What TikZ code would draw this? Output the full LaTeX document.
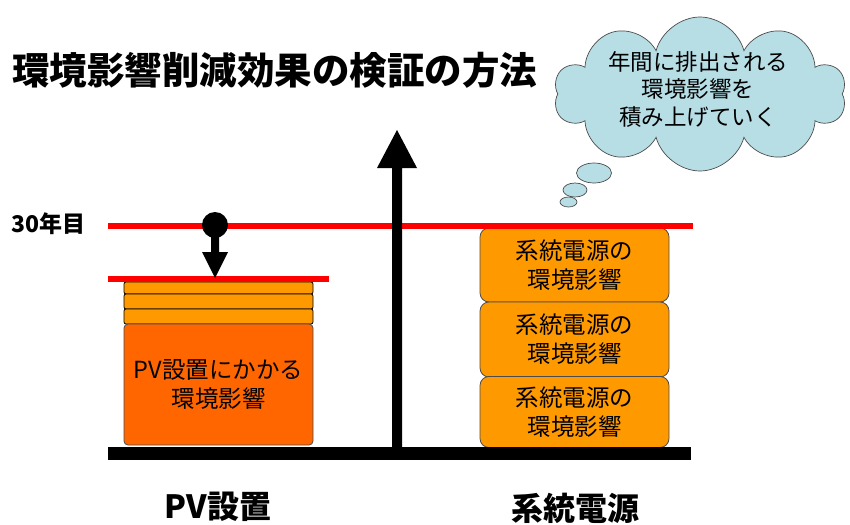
\documentclass[tikz,border=0pt]{standalone}
\usepackage{fontspec}
\setmainfont{Noto Sans CJK JP}
\usetikzlibrary{shapes.symbols}
\definecolor{pvorange}{HTML}{FF6600}
\definecolor{lightorange}{HTML}{FF9900}
\definecolor{cloudblue}{HTML}{B7DDE5}
\definecolor{linered}{HTML}{FF0000}
\tikzset{
  layerbox/.style={draw=black, line width=0.8pt, fill=lightorange, rounded corners=2pt},
  pvbox/.style={draw=black!70, line width=0.8pt, fill=pvorange, rounded corners=4pt},
  sysbox/.style={draw=black!70, line width=0.8pt, fill=lightorange, rounded corners=9pt},
  boxtext/.style={font=\fontsize{23.5}{29}\selectfont, align=center},
  redline/.style={draw=linered, line width=6pt},
  bubble/.style={draw=black!70, line width=0.7pt, fill=cloudblue}
}
\begin{document}
\begin{tikzpicture}[x=1pt,y=-1pt]
\useasboundingbox (0,0) rectangle (850,524);
% title
\node[anchor=west, font=\fontsize{37.5}{40}\selectfont\bfseries, inner sep=0pt] (title) at (12,70) {環境影響削減効果の検証の方法};
% cloud
\node[cloud, cloud puffs=10, cloud ignores aspect, draw=black!70, line width=0.7pt, fill=cloudblue,
  minimum width=292, minimum height=154, inner sep=0pt] (cloud) at (700,94) {};
\node[font=\fontsize{22.5}{27.5}\selectfont, align=center] (cloudtext) at (698,89) {年間に排出される\\環境影響を\\積み上げていく};
\draw[bubble] (594,173) ellipse (17.5 and 10);
\draw[bubble] (575,190) ellipse (12 and 7);
\draw[bubble] (568.5,202) ellipse (8.5 and 5);
% right stack
\node[sysbox, minimum width=189, minimum height=74, boxtext] (s1) at (574.5,265) {系統電源の\\環境影響};
\node[sysbox, minimum width=189, minimum height=75, boxtext] (s2) at (574.5,339.5) {系統電源の\\環境影響};
\node[sysbox, minimum width=189, minimum height=71, boxtext] (s3) at (574.5,412) {系統電源の\\環境影響};
% PV stack
\node[layerbox, minimum width=189, minimum height=12, inner sep=0pt] (l1) at (218.5,288) {};
\node[layerbox, minimum width=189, minimum height=15, inner sep=0pt] (l2) at (218.5,301.5) {};
\node[layerbox, minimum width=189, minimum height=15, inner sep=0pt] (l3) at (218.5,316.5) {};
\node[pvbox, minimum width=189, minimum height=121, boxtext] (pv) at (218.5,384.5) {PV設置にかかる\\環境影響};
% red lines
\coordinate (r1a) at (108,226);
\coordinate (r1b) at (693,226);
\coordinate (r2a) at (108,279);
\coordinate (r2b) at (329,279);
\draw[redline] (r1a) -- (r1b);
\draw[redline] (r2a) -- (r2b);
\node[anchor=west, font=\fontsize{23}{26}\selectfont\bfseries, inner sep=0pt] (yr) at (11,224) {30年目};
% ball and down arrow
\coordinate (ball) at (215,225);
\fill[black] (ball) circle (13);
\fill[black] (211,236) -- (219,236) -- (219,252) -- (228,252) -- (215,278) -- (202,252) -- (211,252) -- cycle;
% vertical arrow
\coordinate (vtip) at (397,130);
\fill[black] (392,450) -- (392,168) -- (377,168) -- (vtip) -- (417,168) -- (402,168) -- (402,450) -- cycle;
% baseline
\coordinate (axl) at (108,453);
\coordinate (axr) at (691,453);
\draw[black, line width=13pt] (axl) -- (axr);
% bottom labels
\node[font=\fontsize{32}{36}\selectfont\bfseries] (pvlab) at (218,507) {PV設置};
\node[font=\fontsize{32}{36}\selectfont\bfseries] (syslab) at (575,508) {系統電源};
\end{tikzpicture}
\end{document}
